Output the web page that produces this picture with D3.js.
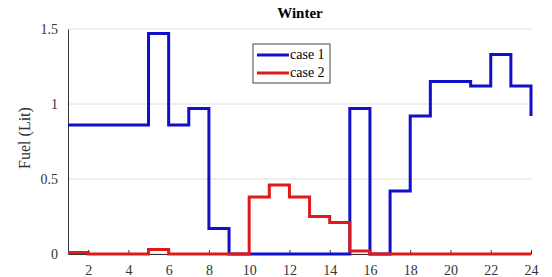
<!DOCTYPE html>
<html>
<head>
<meta charset="utf-8">
<script src="https://cdn.jsdelivr.net/npm/d3@7"></script>
<style>
  body { margin: 0; background: #fff; }
  svg text { font-family: "Liberation Serif", "DejaVu Serif", "Times New Roman", serif !important; }
</style>
</head>
<body>
<div id="chart"></div>
<script>
// hours and fuel use (stairs: value i holds from hour i to hour i+1)
var hours = d3.range(1, 25);
var case1 = [0.86, 0.86, 0.86, 0.86, 1.47, 0.86, 0.97, 0.17, 0, 0, 0, 0, 0, 0,
             0.97, 0, 0.42, 0.92, 1.15, 1.15, 1.12, 1.33, 1.12, 0.92];
var case2 = [0.01, 0, 0, 0, 0.03, 0, 0, 0, 0, 0.38, 0.46, 0.38, 0.25, 0.21,
             0.02, 0, 0, 0, 0, 0, 0, 0, 0, 0];
var xTicks = [2, 4, 6, 8, 10, 12, 14, 16, 18, 20, 22, 24];
var yTicks = [0, 0.5, 1, 1.5];
var seriesNames = ["case 1", "case 2"];
var colors = ["#1010c8", "#e01a1a"];

var width = 552, height = 277;
var plotLeft = 68, plotRight = 531, plotTop = 29, plotBottom = 254;

var svg = d3.select("#chart").append("svg").attr("width", width).attr("height", height);

var x_scale = d3.scaleLinear().domain([1, 24]).range([plotLeft, plotRight]);
var y_scale = d3.scaleLinear().domain([0, 1.5]).range([plotBottom, plotTop]);

// grid lines
svg.append("g")
    .selectAll("line")
    .data(yTicks)
    .enter()
    .append("line")
    .attr("x1", plotLeft).attr("x2", plotRight)
    .attr("y1", function (d) { return y_scale(d); })
    .attr("y2", function (d) { return y_scale(d); })
    .attr("stroke", "#dedede")
    .attr("stroke-width", 1);

// y axis
var y_axis = d3.axisLeft(y_scale).tickValues(yTicks).tickSize(0).tickPadding(10)
    .tickFormat(function (d) { return String(d); });
var gy = svg.append("g").attr("transform", "translate(" + plotLeft + ",0)").call(y_axis);
gy.select(".domain").attr("stroke", "#333");
gy.selectAll("text").style("font-size", "14px").attr("fill", "#333");

// x axis (ticks pointing up)
var x_axis = d3.axisBottom(x_scale).tickValues(xTicks).tickSizeInner(-4).tickSizeOuter(0).tickPadding(11)
    .tickFormat(d3.format("d"));
var gx = svg.append("g").attr("transform", "translate(0," + plotBottom + ")").call(x_axis);
gx.select(".domain").attr("stroke", "#333");
gx.selectAll(".tick line").attr("stroke", "#333");
gx.selectAll("text").style("font-size", "14px").attr("fill", "#333");

// stair lines
var line = d3.line()
    .x(function (d) { return x_scale(d[0]); })
    .y(function (d) { return y_scale(d[1]); })
    .curve(d3.curveStepAfter);

[case1, case2].forEach(function (vals, i) {
    svg.append("path")
        .datum(hours.map(function (h, j) { return [h, vals[j]]; }))
        .attr("d", line)
        .attr("fill", "none")
        .attr("stroke", colors[i])
        .attr("stroke-width", 3);
});

// title and label
svg.append("text")
    .attr("x", 300).attr("y", 18)
    .attr("text-anchor", "middle")
    .style("font-size", "15px").style("font-weight", "bold")
    .text("Winter");

svg.append("text")
    .attr("transform", "translate(30,138) rotate(-90)")
    .attr("text-anchor", "middle")
    .style("font-size", "16px").attr("fill", "#333")
    .text("Fuel (Lit)");

// legend
var legend = svg.append("g").attr("transform", "translate(253,44)");
legend.append("rect")
    .attr("width", 77).attr("height", 39)
    .attr("fill", "#fff").attr("stroke", "#444").attr("stroke-width", 1);
seriesNames.forEach(function (name, i) {
    legend.append("line")
        .attr("x1", 4).attr("x2", 36)
        .attr("y1", 11 + i * 18).attr("y2", 11 + i * 18)
        .attr("stroke", colors[i]).attr("stroke-width", 3);
    legend.append("text")
        .attr("x", 37).attr("y", 15 + i * 18)
        .style("font-size", "14px")
        .text(name);
});
</script>
</body>
</html>
